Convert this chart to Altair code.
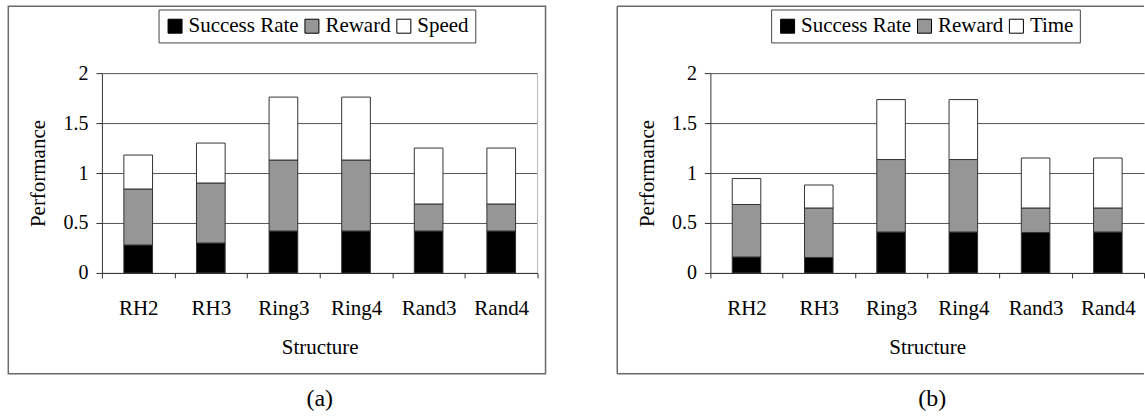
import altair as alt
import pandas as pd

structures = ["RH2", "RH3", "Ring3", "Ring4", "Rand3", "Rand4"]

# panel (a)
a_success = [0.28, 0.30, 0.42, 0.42, 0.42, 0.42]
a_reward = [0.56, 0.60, 0.71, 0.71, 0.27, 0.27]
a_speed = [0.34, 0.40, 0.63, 0.63, 0.56, 0.56]

# panel (b)
b_success = [0.16, 0.155, 0.41, 0.41, 0.405, 0.41]
b_reward = [0.525, 0.495, 0.725, 0.725, 0.245, 0.24]
b_time = [0.26, 0.23, 0.60, 0.60, 0.50, 0.50]

y_ticks = [0, 0.5, 1, 1.5, 2]
FONT = "Liberation Serif, Times New Roman, serif"


def long_table(success, reward, third, third_name):
    rows = []
    for i, s in enumerate(structures):
        rows.append({"Structure": s, "series": "Success Rate", "k": 0, "value": success[i]})
        rows.append({"Structure": s, "series": "Reward", "k": 1, "value": reward[i]})
        rows.append({"Structure": s, "series": third_name, "k": 2, "value": third[i]})
    return pd.DataFrame(rows)


def panel(success, reward, third, third_name, caption, width, legend_x, full_frame, title_dx):
    df = long_table(success, reward, third, third_name)
    names = ["Success Rate", "Reward", third_name]
    bars = alt.Chart(df).mark_bar(
        width=alt.RelativeBandSize(0.395), stroke="#333333", strokeWidth=1
    ).encode(
        x=alt.X(
            "Structure:N",
            sort=structures,
            scale=alt.Scale(paddingInner=0, paddingOuter=0),
            axis=alt.Axis(
                title="Structure",
                labelAngle=0,
                labelFontSize=21,
                tickBand="extent",
                tickSize=5,
                labelPadding=20,
                titlePadding=18,
            ),
        ),
        y=alt.Y(
            "value:Q",
            stack="zero",
            scale=alt.Scale(domain=[0, 2], nice=False),
            axis=alt.Axis(
                title="Performance",
                values=y_ticks,
                format="~g",
                grid=True,
                tickSize=6,
                labelPadding=8,
                titlePadding=14,
            ),
        ),
        color=alt.Color(
            "series:N",
            scale=alt.Scale(domain=names, range=["#000000", "#969696", "#ffffff"]),
            sort=names,
            legend=alt.Legend(
                title=None,
                orient="none",
                legendX=legend_x,
                legendY=-63.7,
                direction="horizontal",
                symbolType="square",
                symbolSize=196,
                symbolStrokeColor="#000000",
                symbolStrokeWidth=1,
                labelFont=FONT,
                labelFontSize=21,
                labelColor="#000000",
                labelOffset=3,
                columnPadding=2,
                padding=6,
                strokeColor="#444444",
                fillColor="#ffffff",
            ),
        ),
        order=alt.Order("k:Q", sort="ascending"),
    )

    deco = alt.Chart(pd.DataFrame({"d": [0]}))
    layers = []
    if full_frame:
        layers.append(
            deco.mark_rect(fillOpacity=0, stroke="#6a6a6a", strokeWidth=1.5).encode(
                x=alt.value(-93.7), x2=alt.value(444), y=alt.value(-67), y2=alt.value(301)
            )
        )
        layers.append(
            deco.mark_rule(color="#bbbbbb", strokeWidth=1).encode(
                x=alt.value(width), y=alt.value(0), y2=alt.value(200)
            )
        )
    else:
        layers.append(
            deco.mark_rule(color="#6a6a6a", strokeWidth=1.5).encode(
                x=alt.value(-93.2), x2=alt.value(width), y=alt.value(-67)
            )
        )
        layers.append(
            deco.mark_rule(color="#6a6a6a", strokeWidth=1.5).encode(
                x=alt.value(-93.2), x2=alt.value(width), y=alt.value(301)
            )
        )
        layers.append(
            deco.mark_rule(color="#6a6a6a", strokeWidth=1.5).encode(
                x=alt.value(-93.2), y=alt.value(-67), y2=alt.value(301)
            )
        )
    layers.append(bars)
    return alt.layer(*layers).properties(
        width=width,
        height=200,
        title=alt.TitleParams(
            caption,
            orient="bottom",
            font=FONT,
            fontSize=24,
            fontWeight="normal",
            color="#000000",
            offset=12,
            dx=title_dx,
        ),
    )


chart_a = panel(a_success, a_reward, a_speed, "Speed", "(a)", 436, 56.7, True, 0)
chart_b = panel(b_success, b_reward, b_time, "Time", "(b)", 434, 60.8, False, 5)

chart = (
    alt.hconcat(chart_a, chart_b, spacing=70)
    .properties(padding={"left": 7, "top": 5, "right": 0, "bottom": 0})
    .resolve_scale(color="independent")
    .configure_view(stroke=None)
    .configure_axis(
        labelFont=FONT,
        labelFontSize=20,
        labelColor="#000000",
        titleFont=FONT,
        titleFontSize=21,
        titleFontWeight="normal",
        titleColor="#000000",
        domainColor="#333333",
        tickColor="#333333",
        gridColor="#555555",
        gridWidth=1,
    )
    .configure_axisX(grid=False)
)

chart.save("out.html", embed_options={"renderer": "svg", "actions": False})
